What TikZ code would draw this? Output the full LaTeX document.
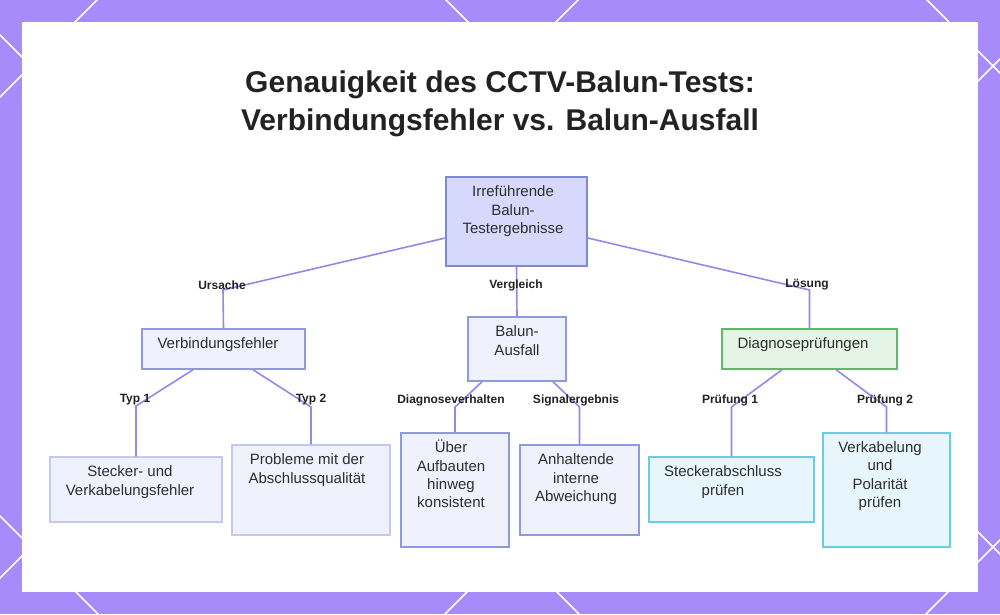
\documentclass[tikz,border=0pt]{standalone}
\usepackage{fontspec}
\setmainfont{Liberation Sans}
\usetikzlibrary{fit,calc}
\definecolor{bgpurple}{HTML}{A78BFA}
\definecolor{edgecol}{HTML}{9B85E6}
\definecolor{rootfill}{HTML}{D6D9FB}
\definecolor{rootdraw}{HTML}{7F8AD6}
\definecolor{bluefill}{HTML}{EFF1FD}
\definecolor{bluedraw}{HTML}{8E99DF}
\definecolor{paledraw}{HTML}{C3CAEE}
\definecolor{greenfill}{HTML}{E5F5E5}
\definecolor{greendraw}{HTML}{5FB96A}
\definecolor{cyanfill}{HTML}{E7F6FC}
\definecolor{cyandraw}{HTML}{6CCDE0}
\definecolor{titlecol}{HTML}{222222}
\definecolor{bodycol}{HTML}{2E2E2E}
\newcommand\tstrut{\rule{0pt}{12pt}}
\tikzset{
  boxbase/.style={rectangle, inner sep=0pt, line width=1.5pt},
  rootbox/.style={boxbase, fill=rootfill, draw=rootdraw},
  bluebox/.style={boxbase, fill=bluefill, draw=bluedraw},
  palebox/.style={boxbase, fill=bluefill, draw=paledraw},
  greenbox/.style={boxbase, fill=greenfill, draw=greendraw},
  cyanbox/.style={boxbase, fill=cyanfill, draw=cyandraw},
  txt/.style={anchor=north, inner sep=0pt, align=center, text=bodycol,
    font=\fontsize{15}{18.4}\selectfont},
  lbl/.style={inner sep=0pt, text=titlecol, font=\bfseries\fontsize{12}{14}\selectfont},
  edge/.style={draw=edgecol, line width=1.6pt},
  lattice/.style={draw=white, line width=1.6pt}
}
\begin{document}
\begin{tikzpicture}[x=1pt,y=-1pt]
\useasboundingbox (0,0) rectangle (1000,614);
% background
\fill[bgpurple] (0,0) rectangle (1000,614);
\begin{scope}
  \clip (0,0) rectangle (1000,614);
  \foreach \c in {-927,-446,35,516} \draw[lattice] (-50,{-50+\c}) -- (1100,{1100+\c});
  \foreach \c in {97,578,1059,1540} \draw[lattice] (-50,{\c+50}) -- (1100,{\c-1100});
\end{scope}
\fill[white] (22,22) rectangle (978,592);

% title
\node[anchor=north, inner sep=0pt, align=center, text=titlecol,
  font=\bfseries\fontsize{30}{38}\selectfont] (title) at (500,69)
  {\rule{0pt}{23pt}Genauigkeit des CCTV-Balun-Tests:\\Verbindungsfehler vs. Balun-Ausfall};

% boxes
\node[rootbox, fit={(446,177) (587,266)}] (root) {};
\node[bluebox, fit={(142,329) (305,369)}] (verb) {};
\node[bluebox, fit={(468,317) (566,381)}] (balun) {};
\node[greenbox, fit={(722,329) (897,369)}] (diag) {};
\node[palebox, fit={(50,457) (222,522)}] (stk) {};
\node[palebox, fit={(232,445) (390,535)}] (prob) {};
\node[bluebox, fit={(401,433) (509,547)}] (ueber) {};
\node[bluebox, fit={(520,445) (639,535)}] (anh) {};
\node[cyanbox, fit={(649,457) (814,522)}] (stab) {};
\node[cyanbox, fit={(823,433) (950,547)}] (verk) {};

% box texts
\node[txt] (roott) at (513,184.5) {\tstrut Irreführende\\Balun-\\Testergebnisse};
\node[txt] (verbt) at (218,336.5) {\tstrut Verbindungsfehler};
\node[txt] (balunt) at (517,324.5) {\tstrut Balun-\\Ausfall};
\node[txt] (diagt) at (803,336.5) {\tstrut Diagnoseprüfungen};
\node[txt] (stkt) at (130,464.5) {\tstrut Stecker- und\\Verkabelungsfehler};
\node[txt] (probt) at (307,452.5) {\tstrut Probleme mit der\\Abschlussqualität};
\node[txt] (uebert) at (451,440) {\tstrut Über\\Aufbauten\\hinweg\\konsistent};
\node[txt] (anht) at (576,452.5) {\tstrut Anhaltende\\interne\\Abweichung};
\node[txt] (stabt) at (723,464.5) {\tstrut Steckerabschluss\\prüfen};
\node[txt] (verkt) at (880,440) {\tstrut Verkabelung\\und\\Polarität\\prüfen};

% bend points
\coordinate (b1) at (223,290);
\coordinate (b3) at (809.5,290);
\coordinate (b4) at (136,406);
\coordinate (b5) at (311,407);
\coordinate (b6) at (455,407);
\coordinate (b7) at (579.5,407);
\coordinate (b8) at (731.5,407);
\coordinate (b9) at (886.5,407);

% edges
\draw[edge] ([yshift=-16.5pt]root.west) -- (b1) -- (verb.north);
\draw[edge] (root.south) -- (balun.north);
\draw[edge] ([yshift=-16.5pt]root.east) -- (b3) -- (diag.north);
\draw[edge] ([xshift=-30.5pt]verb.south) -- (b4) -- (stk.north);
\draw[edge] ([xshift=29.5pt]verb.south) -- (b5) -- (prob.north);
\draw[edge] ([xshift=-35pt]balun.south) -- (b6) -- (ueber.north);
\draw[edge] ([xshift=36pt]balun.south) -- (b7) -- (anh.north);
\draw[edge] ([xshift=-27.5pt]diag.south) -- (b8) -- (stab.north);
\draw[edge] ([xshift=26.5pt]diag.south) -- (b9) -- (verk.north);

% edge labels
\node[lbl] (l1) at (222,285) {Ursache};
\node[lbl] (l2) at (516,285) {Vergleich};
\node[lbl] (l3) at (807,285) {Lösung};
\node[lbl] (l4) at (135,400) {Typ 1};
\node[lbl] (l5) at (311,400) {Typ 2};
\node[lbl] (l6) at (451,400) {Diagnoseverhalten};
\node[lbl] (l7) at (576,400) {Signalergebnis};
\node[lbl] (l8) at (730,400) {Prüfung 1};
\node[lbl] (l9) at (885,400) {Prüfung 2};
\end{tikzpicture}
\end{document}
